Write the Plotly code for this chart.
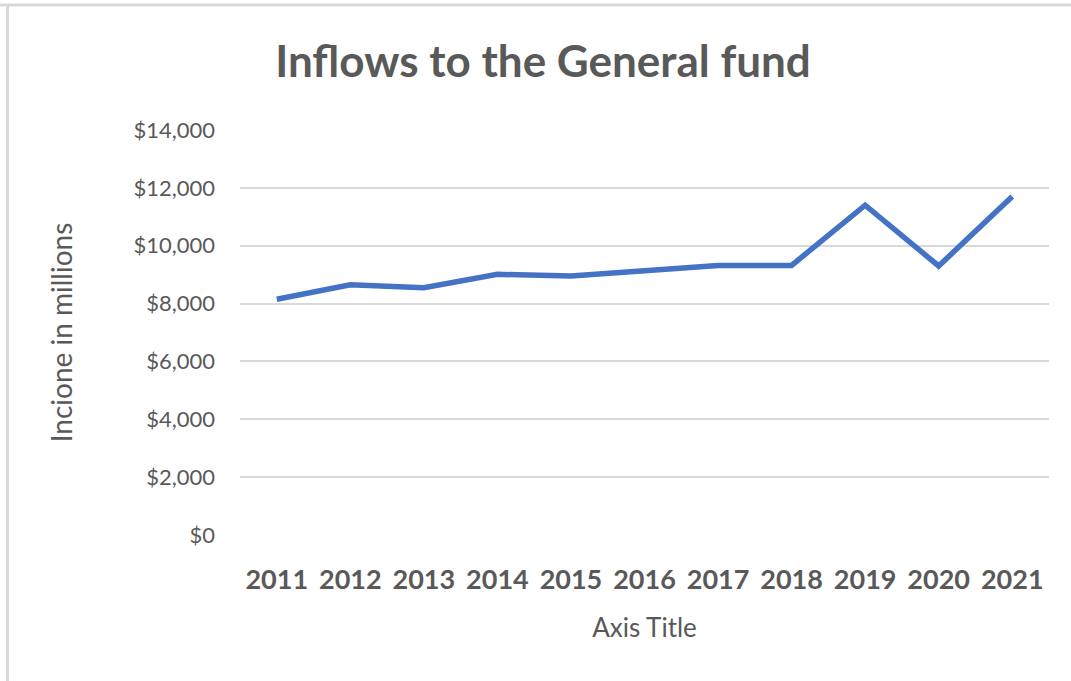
import plotly.graph_objects as go

years = ["2011", "2012", "2013", "2014", "2015", "2016", "2017", "2018", "2019", "2020", "2021"]
inflows = [8150, 8650, 8550, 9010, 8950, 9150, 9320, 9320, 11400, 9300, 11700]
y_ticks = [0, 2000, 4000, 6000, 8000, 10000, 12000, 14000]
y_tick_labels = ["$0", "$2,000", "$4,000", "$6,000", "$8,000", "$10,000", "$12,000", "$14,000"]

W, H = 1071, 681
L, R, T, B = 240, 22, 130, 146
pw, ph = W - L - R, H - T - B

def px(x):
    return (x - L) / pw

def py(y):
    return 1 - (y - T) / ph

fig = go.Figure()
fig.add_trace(go.Scatter(
    x=years, y=inflows, mode="lines",
    line=dict(color="#4472C4", width=5.5),
    hoverinfo="x+y",
))

fig.update_layout(
    width=W, height=H,
    margin=dict(l=L, r=R, t=T, b=B),
    paper_bgcolor="white", plot_bgcolor="white",
    showlegend=False,
    font=dict(family="Lato, Open Sans, sans-serif", color="#595959"),
    title=dict(text="<b>Inflows to the General fund</b>", x=543 / W, xanchor="center",
               y=1 - 62 / H, yanchor="middle",
               font=dict(size=44, color="#595959", family="Lato, sans-serif")),
    xaxis=dict(
        type="category", range=[-0.5, 10.5], showgrid=False, zeroline=False, showline=False,
        ticks="", tickfont=dict(size=27, color="#595959", family="Lato, sans-serif", weight="bold"),
        ticklabelstandoff=26,
        title=dict(text="Axis Title", font=dict(size=26, color="#595959"), standoff=24),
    ),
    yaxis=dict(
        range=[0, 14000], tickvals=y_ticks, ticktext=y_tick_labels,
        showgrid=True, gridcolor="#D9D9D9", gridwidth=2, zeroline=False, showline=False,
        ticks="", tickfont=dict(size=22, color="#595959"),
        ticklabelstandoff=24,
        title=dict(text="Incione in millions", font=dict(size=28, color="#595959"), standoff=52),
    ),
    shapes=[
        dict(type="line", xref="paper", yref="paper",
             x0=px(0), x1=px(W), y0=py(5), y1=py(5),
             line=dict(color="#D9D9D9", width=3), layer="below"),
        dict(type="line", xref="paper", yref="paper",
             x0=px(7.5), x1=px(7.5), y0=py(5), y1=py(H),
             line=dict(color="#D9D9D9", width=3), layer="below"),
    ],
)

fig.write_html("out.html", config={"displayModeBar": False},
               post_script="document.body.style.margin='0';document.body.style.overflow='hidden';")
